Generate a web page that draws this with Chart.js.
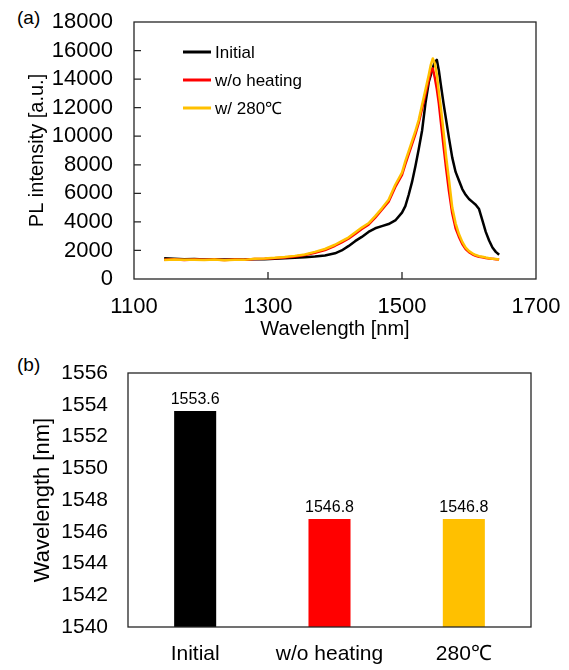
<!DOCTYPE html>
<html>
<head>
<meta charset="utf-8">
<script src="https://cdn.jsdelivr.net/npm/chart.js@4.4.1/dist/chart.umd.min.js"></script>
<style>
  html, body { margin: 0; padding: 0; background: #fff; }
  body { width: 569px; height: 670px; position: relative; overflow: hidden;
         font-family: "Liberation Sans", Arial, sans-serif; }
  #specCanvas { position: absolute; left: 0; top: 0; }
  #peakCanvas { position: absolute; left: 0; top: 340px; }
  .panel { position: absolute; left: 17px; font-size: 19px; line-height: 19px; color: #000; }
</style>
</head>
<body>
<div class="panel" style="top:8px">(a)</div>
<div class="panel" style="top:355px">(b)</div>
<canvas id="specCanvas" width="569" height="340"></canvas>
<canvas id="peakCanvas" width="569" height="330"></canvas>
<script>
// PL spectra, shared wavelength grid [nm]
const wavelengthNm = [1145,1160,1175,1190,1205,1220,1235,1250,1265,1280,1295,1310,1325,1340,1355,1370,1385,1400,
  1410,1420,1430,1440,1450,1460,1470,1480,1490,1500,
  1505,1510,1515,1520,1525,1530,1535,1540,
  1543,1546,1549,1552,1555,1558,
  1562,1566,1570,
  1575,1580,1585,1590,1595,1600,1605,1610,1615,1620,1625,1630,1635,1640,1645];

const plInitial = [1450,1420,1390,1400,1370,1390,1360,1380,1370,1390,1390,1420,1450,1480,1520,1570,1650,1800,
  2000,2300,2650,2950,3300,3550,3700,3850,4100,4650,
  5100,5900,6800,7900,9100,10400,12300,13800,
  14300,14800,15200,15350,14600,13600,
  12300,11100,9900,
  8500,7500,6900,6300,5900,5600,5400,5200,4900,4100,3300,2700,2200,1900,1700];

const plNoHeating = [1350,1380,1330,1360,1340,1370,1330,1360,1350,1400,1420,1460,1510,1580,1680,1840,2030,2330,
  2570,2820,3150,3500,3800,4300,4850,5420,6450,7300,
  8050,8750,9450,10150,10950,11950,12950,13950,
  14550,14750,14100,13300,12300,11000,
  9300,7700,6200,
  4600,3550,2950,2450,2100,1880,1730,1630,1560,1520,1470,1440,1410,1390,1360];

const pl280C = [1330,1370,1340,1350,1330,1360,1320,1350,1340,1420,1440,1480,1540,1620,1720,1900,2100,2400,
  2650,2900,3250,3600,3900,4400,4950,5550,6600,7450,
  8250,8950,9650,10350,11150,12200,13250,14300,
  15000,15450,15100,14300,13100,12000,
  10300,8500,7000,
  5000,3900,3150,2600,2200,1950,1800,1680,1600,1560,1500,1460,1420,1400,1370];

const seriesLabels = ['Initial', 'w/o heating', 'w/ 280\u2103'];

// Peak wavelength per sample [nm]
const sampleNames = ['Initial', 'w/o heating', '280\u2103'];
const peakWavelength = [1553.6, 1546.8, 1546.8];

const FONT = '"Liberation Sans", Arial, sans-serif';
Chart.defaults.font.family = FONT;
Chart.defaults.color = '#000';

const toPoints = (ys) => ys.map((y, i) => ({ x: wavelengthNm[i], y }));
const plain = (v) => String(v);

// Invisible outward tick marks only reserve the gap between labels and axis
const gapGrid = (len) => ({ display: true, drawOnChartArea: false, drawTicks: true, tickLength: len, tickColor: 'rgba(0,0,0,0)' });

// Plot frame, with optional inward tick marks
const framePlugin = {
  id: 'frame',
  afterDraw(chart, args, opts) {
    const { ctx, chartArea: a } = chart;
    ctx.save();
    ctx.strokeStyle = '#262626';
    ctx.lineWidth = 1.3;
    ctx.strokeRect(a.left, a.top, a.right - a.left, a.bottom - a.top);
    if (opts.innerTicks) {
      const len = 7;
      const xs = chart.scales.x, ys = chart.scales.y;
      ctx.beginPath();
      xs.ticks.forEach(t => {
        const px = xs.getPixelForValue(t.value);
        if (px > a.left + 1 && px < a.right - 1) { ctx.moveTo(px, a.bottom); ctx.lineTo(px, a.bottom - len); }
      });
      ys.ticks.forEach(t => {
        const py = ys.getPixelForValue(t.value);
        if (py > a.top + 1 && py < a.bottom - 1) { ctx.moveTo(a.left, py); ctx.lineTo(a.left + len, py); }
      });
      ctx.stroke();
    }
    ctx.restore();
  }
};

// Legend drawn inside the plot area
const insideLegend = {
  id: 'insideLegend',
  afterDraw(chart) {
    const { ctx, chartArea: a } = chart;
    ctx.save();
    ctx.font = '17px ' + FONT;
    ctx.textBaseline = 'middle';
    ctx.textAlign = 'left';
    chart.data.datasets.forEach((ds, i) => {
      const y = a.top + 30 + i * 28;
      ctx.strokeStyle = ds.borderColor;
      ctx.lineWidth = 3;
      ctx.beginPath();
      ctx.moveTo(a.left + 49, y);
      ctx.lineTo(a.left + 77, y);
      ctx.stroke();
      ctx.fillStyle = '#000';
      ctx.fillText(ds.label, a.left + 81, y + 1);
    });
    ctx.restore();
  }
};

// Value labels above bars
const barValues = {
  id: 'barValues',
  afterDatasetsDraw(chart) {
    const { ctx } = chart;
    const meta = chart.getDatasetMeta(0);
    ctx.save();
    ctx.font = '16px ' + FONT;
    ctx.fillStyle = '#000';
    ctx.textAlign = 'center';
    ctx.textBaseline = 'alphabetic';
    meta.data.forEach((bar, i) => {
      ctx.fillText(chart.data.datasets[0].data[i].toFixed(1), bar.x, bar.y - 7);
    });
    ctx.restore();
  }
};

const lineStyle = { borderWidth: 2.5, pointRadius: 0, tension: 0, fill: false, borderJoinStyle: 'round' };

new Chart(document.getElementById('specCanvas'), {
  type: 'line',
  data: {
    datasets: [
      { label: seriesLabels[0], data: toPoints(plInitial), borderColor: '#000000', order: 2, ...lineStyle },
      { label: seriesLabels[1], data: toPoints(plNoHeating), borderColor: '#FF0000', order: 1, ...lineStyle },
      { label: seriesLabels[2], data: toPoints(pl280C), borderColor: '#FFC000', order: 0, ...lineStyle }
    ]
  },
  options: {
    responsive: false,
    animation: false,
    layout: { padding: { top: 22, right: 33, left: 0, bottom: 0 } },
    plugins: { legend: { display: false }, tooltip: { enabled: false }, frame: { innerTicks: true } },
    scales: {
      x: {
        type: 'linear', min: 1100, max: 1700,
        ticks: { stepSize: 200, padding: 0, font: { size: 22 }, color: '#000', callback: plain, maxRotation: 0, autoSkip: false },
        grid: gapGrid(15),
        border: { display: false },
        title: { display: true, text: 'Wavelength [nm]', font: { size: 20 }, color: '#000', padding: { top: 0, bottom: -1 } },
        afterFit(s) { s.height = 61; }
      },
      y: {
        min: 0, max: 18000,
        ticks: { stepSize: 2000, padding: 0, font: { size: 22 }, color: '#000', callback: plain, autoSkip: false },
        grid: gapGrid(21),
        border: { display: false },
        title: { display: true, text: 'PL intensity [a.u.]', font: { size: 20 }, color: '#000', padding: { top: 25, bottom: 0 } },
        afterFit(s) { s.width = 134; }
      }
    }
  },
  plugins: [framePlugin, insideLegend]
});

new Chart(document.getElementById('peakCanvas'), {
  type: 'bar',
  data: {
    labels: sampleNames,
    datasets: [{
      data: peakWavelength,
      backgroundColor: ['#000000', '#FF0000', '#FFC000'],
      borderWidth: 0,
      barPercentage: 0.313,
      categoryPercentage: 1
    }]
  },
  options: {
    responsive: false,
    animation: false,
    layout: { padding: { top: 33, right: 38, left: 0, bottom: 0 } },
    plugins: { legend: { display: false }, tooltip: { enabled: false }, frame: { innerTicks: false } },
    scales: {
      x: {
        ticks: { padding: 0, font: { size: 21 }, color: '#000', maxRotation: 0, autoSkip: false },
        grid: gapGrid(15),
        border: { display: false },
        afterFit(s) { s.height = 43; }
      },
      y: {
        min: 1540, max: 1556,
        ticks: { stepSize: 2, padding: 0, font: { size: 21 }, color: '#000', callback: plain, autoSkip: false },
        grid: gapGrid(20),
        border: { display: false },
        title: { display: true, text: 'Wavelength [nm]', font: { size: 22 }, color: '#000', padding: { top: 30, bottom: 0 } },
        afterFit(s) { s.width = 128; }
      }
    }
  },
  plugins: [framePlugin, barValues]
});
</script>
</body>
</html>
